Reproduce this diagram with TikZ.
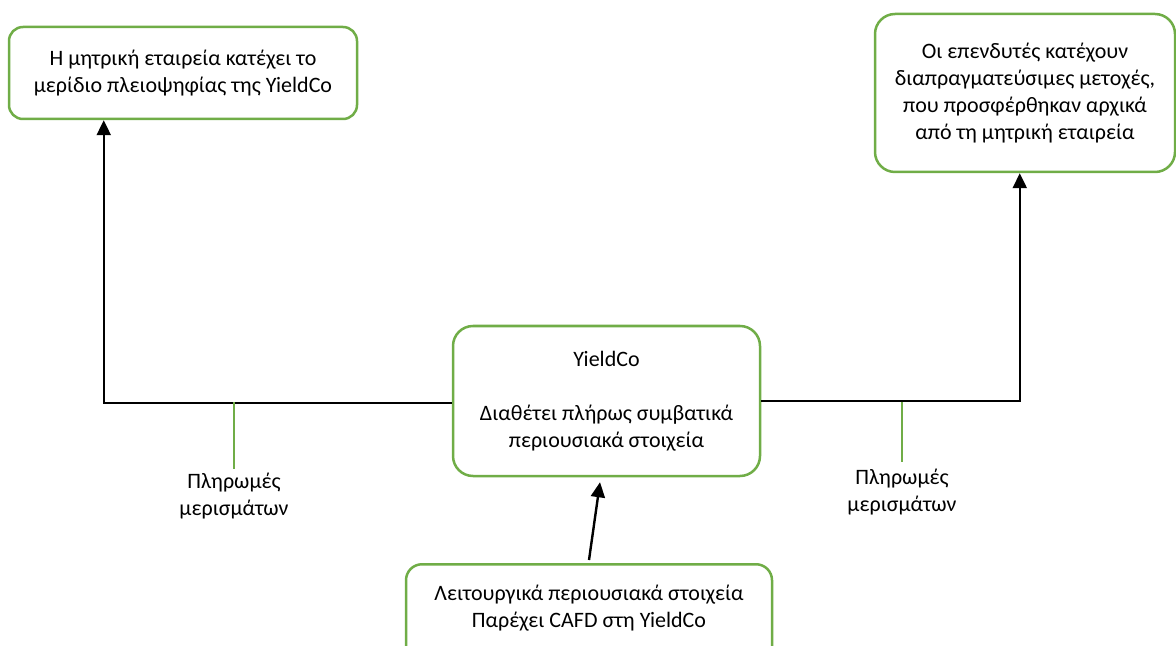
\documentclass[tikz,border=0pt]{standalone}
\usepackage{fontspec}
\setmainfont{Carlito}
\usetikzlibrary{arrows.meta,calc}
\definecolor{boxgreen}{HTML}{70AD47}
\begin{document}
\begin{tikzpicture}[x=0.5pt,y=-0.5pt,
  greenbox/.style={draw=boxgreen, line width=1.25pt, fill=white, align=center,
    font=\fontsize{11pt}{13.5pt}\selectfont, inner sep=0pt},
  conn/.style={draw=black, line width=1.2pt, -{Triangle[width=7pt,length=7.5pt]}},
  tick/.style={draw=boxgreen, line width=1pt},
  lbl/.style={align=center, font=\fontsize{11pt}{13.5pt}\selectfont, inner sep=1pt}]
\useasboundingbox (0,0) rectangle (1176,646);

% boxes
\node[greenbox, rounded corners=7pt, minimum width=174pt, minimum height=46pt] (A) at (183,73)
  {Η μητρική εταιρεία κατέχει το\\μερίδιο πλειοψηφίας της YieldCo};
\node[greenbox, rounded corners=10pt, minimum width=150pt, minimum height=79pt] (B) at (1025,93)
  {Οι επενδυτές κατέχουν\\διαπραγματεύσιμες μετοχές,\\που προσφέρθηκαν αρχικά\\από τη μητρική εταιρεία};
\node[greenbox, rounded corners=10pt, minimum width=153.5pt, minimum height=75pt] (C) at (606.5,401)
  {YieldCo\\[13.5pt]Διαθέτει πλήρως συμβατικά\\περιουσιακά στοιχεία};
\node[greenbox, rounded corners=8pt, minimum width=183pt, minimum height=60pt, anchor=north] (D) at (589,563) {};
\node[lbl] (Dtext) at (589,608) {Λειτουργικά περιουσιακά στοιχεία\\Παρέχει CAFD στη YieldCo};

% dividend labels
\node[lbl] (L1) at (234,496) {Πληρωμές\\μερισμάτων};
\node[lbl] (L2) at (902,492) {Πληρωμές\\μερισμάτων};

% connectors
\draw[conn] ($(C.west)+(0,2)$) -| ($(A.south west)+(96,0)$);
\draw[conn] (C.east) -| ($(B.south west)+(146,0)$);
\draw[conn] ($(D.north)+(0,-3)$) -- ($(C.south)+(-6.5,5)$);

% green ticks
\draw[tick] ($(L1.north)+(0,-2)$) -- ($(L1.north |- C.west)+(0,1)$);
\draw[tick] ($(L2.north)+(0,-5)$) -- ($(L2.north |- C.west)+(0,1)$);
\end{tikzpicture}
\end{document}
